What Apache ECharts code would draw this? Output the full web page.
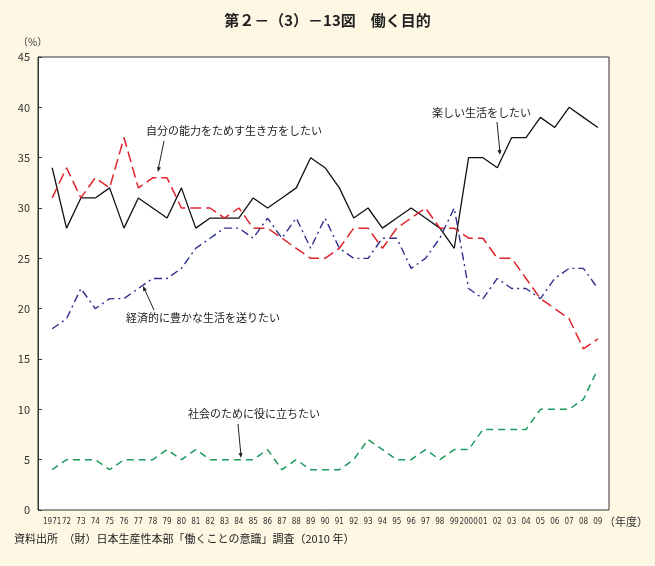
<!DOCTYPE html>
<html><head><meta charset="utf-8">
<script src="https://cdn.jsdelivr.net/npm/echarts@6/dist/echarts.min.js"></script>
<style>html,body{margin:0;padding:0;background:#fdf7e4;}#c{width:655px;height:566px;}</style>
</head><body><div id="c"></div>
<script>
const years = ['1971','72','73','74','75','76','77','78','79','80','81','82','83','84','85','86','87','88','89','90','91','92','93','94','95','96','97','98','99','2000','01','02','03','04','05','06','07','08','09'];
const tanoshii = [34,28,31,31,32,28,31,30,29,32,28,29,29,29,31,30,31,32,35,34,32,29,30,28,29,30,29,28,26,35,35,34,37,37,39,38,40,39,38];
const nouryoku = [31,34,31,33,32,37,32,33,33,30,30,30,29,30,28,28,27,26,25,25,26,28,28,26,28,29,30,28,28,27,27,25,25,23,21,20,19,16,17];
const keizai = [18,19,22,20,21,21,22,23,23,24,26,27,28,28,27,29,27,29,26,29,26,25,25,27,27,24,25,27,30,22,21,23,22,22,21,23,24,24,22];
const shakai = [4,5,5,5,4,5,5,5,6,5,6,5,5,5,5,6,4,5,4,4,4,5,7,6,5,5,6,5,6,6,8,8,8,8,10,10,10,11,14];
const yTicks = [0,5,10,15,20,25,30,35,40,45];

const chart = echarts.init(document.getElementById('c'));
const F = '"Noto Sans CJK JP","Noto Sans",sans-serif';
function ser(name,data,color,type,w){return {name,type:'line',xAxisIndex:1,yAxisIndex:1,data,symbol:'none',lineStyle:{color,width:w||1.4,type},itemStyle:{color}};}
function arrow(x1,y1,x2,y2){return {type:'line',shape:{x1,y1,x2,y2},style:{stroke:'#222',lineWidth:1}};}
function head(x,y,dx,dy){const l=Math.hypot(dx,dy),ux=dx/l,uy=dy/l,s=5;return {type:'polygon',shape:{points:[[x,y],[x-ux*s-uy*2,y-uy*s+ux*2],[x-ux*s+uy*2,y-uy*s-ux*2]]},style:{fill:'#222'}};}
function txt(x,y,t){return {type:'text',x,y,style:{text:t,font:'11px '+F,fill:'#222'}};}
chart.setOption({
  backgroundColor:'#fdf7e4',
  animation:false,
  title:{text:'第２－（3）－13図　働く目的',left:'center',top:8,textStyle:{fontFamily:F,fontSize:15,fontWeight:'bold',color:'#222'}},
  grid:[
    {left:38,right:46,top:57,bottom:56,show:true,backgroundColor:'#fff',borderColor:'#333',borderWidth:1},
    {left:45,right:50,top:57,bottom:56}
  ],
  xAxis:[
    {type:'value',gridIndex:0,show:false,min:0,max:1},
    {type:'category',gridIndex:1,data:years,boundaryGap:true,axisLine:{show:false},axisTick:{show:false},
     axisLabel:{interval:0,fontSize:8,color:'#333',fontFamily:'"Liberation Sans Narrow","DejaVu Sans Condensed",sans-serif',margin:8}}
  ],
  yAxis:[
    {type:'value',gridIndex:0,min:0,max:45,interval:5,axisLine:{show:true,lineStyle:{color:'#333'}},axisTick:{show:true,inside:true,length:4,lineStyle:{color:'#333'}},
     splitLine:{show:false},axisLabel:{fontSize:11,color:'#333',fontFamily:F}},
    {type:'value',gridIndex:1,min:0,max:45,interval:5,show:false,splitLine:{show:false}}
  ],
  series:[
    ser('楽しい生活をしたい',tanoshii,'#111','solid',1.3),
    ser('自分の能力をためす生き方をしたい',nouryoku,'#e0232b',[11,5],1.5),
    ser('経済的に豊かな生活を送りたい',keizai,'#2e2e8e',[8,4,2,4],1.4),
    ser('社会のために役に立ちたい',shakai,'#1b9a5c',[7,5],1.5)
  ],
  graphic:[
    {type:'text',left:18,top:37,style:{text:'（%）',font:'10px '+F,fill:'#333'}},
    {type:'text',left:604,top:516,style:{text:'（年度）',font:'11px '+F,fill:'#333'}},
    {type:'text',left:14,top:533,style:{text:'資料出所　（財）日本生産性本部「働くことの意識」調査（2010 年）',font:'11px '+F,fill:'#222'}},
    txt(146,125,'自分の能力をためす生き方をしたい'),
    arrow(164,141,158,170),head(158,172,-6,30),
    txt(432,107,'楽しい生活をしたい'),
    arrow(497,122,500,153),head(500,155,3,31),
    txt(126,312,'経済的に豊かな生活を送りたい'),
    arrow(154,310,144,288),head(143,286,-10,-22),
    txt(188,408,'社会のために役に立ちたい'),
    arrow(238,424,241,456),head(241,458,3,32)
  ]
});
</script></body></html>
